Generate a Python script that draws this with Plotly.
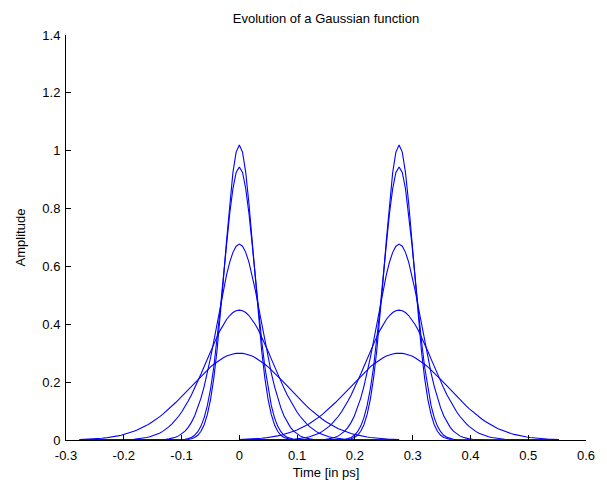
import numpy as np
import plotly.graph_objects as go

# Values
pulse_centers = [0.0, 0.2765]          # ps
half_window = 0.2765                    # ps, each pulse drawn over center +/- this
peak_amplitudes = [1.02, 0.944, 0.677, 0.449, 0.30]
pulse_widths = [0.025, 0.0272, 0.0378, 0.057, 0.085]   # Gaussian sigma, ps
n_samples = 101

x_ticks = [-0.3, -0.2, -0.1, 0, 0.1, 0.2, 0.3, 0.4, 0.5, 0.6]
x_tick_labels = ["-0.3", "-0.2", "-0.1", "0", "0.1", "0.2", "0.3", "0.4", "0.5", "0.6"]
y_ticks = [0, 0.2, 0.4, 0.6, 0.8, 1, 1.2, 1.4]
y_tick_labels = ["0", "0.2", "0.4", "0.6", "0.8", "1", "1.2", "1.4"]

fig = go.Figure()
for c in pulse_centers:
    t = np.linspace(c - half_window, c + half_window, n_samples)
    for a, s in zip(peak_amplitudes, pulse_widths):
        fig.add_trace(go.Scatter(
            x=t, y=a * np.exp(-((t - c) ** 2) / (2 * s ** 2)),
            mode="lines", line=dict(color="#0000ff", width=1.1),
            showlegend=False, hoverinfo="skip"))

font = dict(family="Liberation Sans, Arial, sans-serif", size=13, color="black")
fig.update_layout(
    width=607, height=482,
    margin=dict(l=66, r=21, t=35, b=42),
    paper_bgcolor="white", plot_bgcolor="white",
    font=font,
    title=dict(text="Evolution of a Gaussian function", x=(66 + 586) / 2 / 607,
               xanchor="center", y=1 - 18 / 482, yanchor="middle",
               font=dict(size=13)),
    xaxis=dict(range=[-0.3, 0.6], tickvals=x_ticks, ticktext=x_tick_labels,
               ticks="inside", ticklen=5, tickcolor="black",
               tickfont=dict(size=13), ticklabelstandoff=3,
               showline=True, linecolor="black", linewidth=1,
               showgrid=False, zeroline=False, automargin=False,
               title=dict(text="Time [in ps]", standoff=6, font=dict(size=13))),
    yaxis=dict(range=[0, 1.4], tickvals=y_ticks, ticktext=y_tick_labels,
               ticks="inside", ticklen=5, tickcolor="black",
               tickfont=dict(size=13), ticklabelstandoff=2,
               showline=True, linecolor="black", linewidth=1,
               showgrid=False, zeroline=False, automargin=False,
               title=dict(text="Amplitude", standoff=13, font=dict(size=13))),
)
fig.write_html("out.html", config={"displayModeBar": False},
               post_script="document.body.style.margin='0px';")
